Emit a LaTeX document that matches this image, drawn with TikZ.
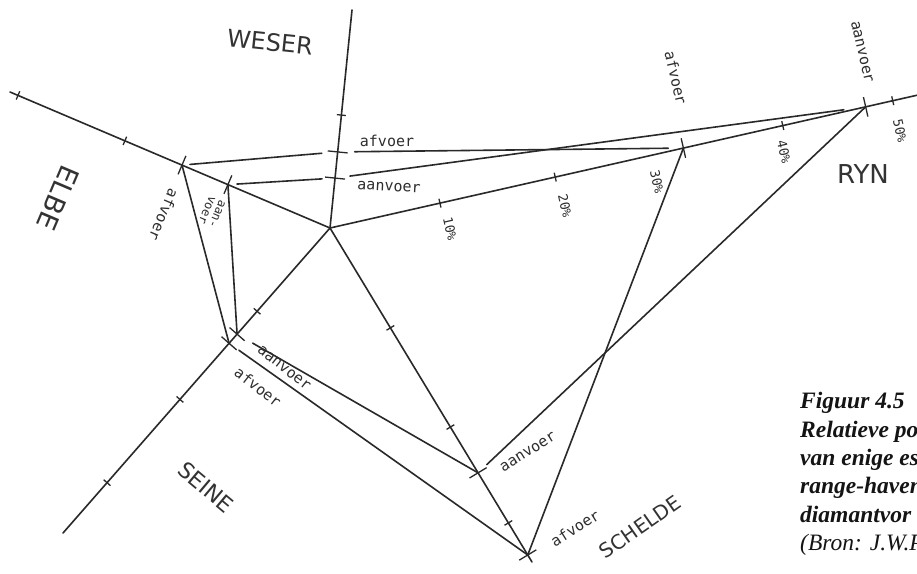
\documentclass[tikz,border=0pt]{standalone}
\usepackage{fontspec}
\newfontfamily\handfont{DejaVu Sans}
\newfontfamily\handmono{DejaVu Sans Mono}
\newfontfamily\capfont{Liberation Serif}
\usetikzlibrary{calc}
\begin{document}
\begin{tikzpicture}[x=1pt,y=-1pt,
  ln/.style={line width=1.6pt, draw=black!84, line cap=round},
  tk/.style={line width=1.3pt, draw=black!84},
  big/.style={font=\handfont\fontsize{#1}{#1}\selectfont, text=black!80, inner sep=0pt},
  sm/.style={font=\handmono\fontsize{15}{15}\selectfont, text=black!82, inner sep=0pt},
  pc/.style={font=\handmono\fontsize{13}{13}\selectfont, text=black!82, inner sep=0pt, rotate=-77},
  captxt/.style={font=\capfont\fontsize{23.5}{23.5}\selectfont\bfseries\itshape, anchor=base west, inner sep=0pt, text=black!92}]
\useasboundingbox (0,0) rectangle (917,573);
\fill[white] (0,0) rectangle (917,573);
\clip (0,0) rectangle (917,573);
% axes
\coordinate (C) at (330,228);
\coordinate (Wt) at (352,10);
\coordinate (Ee) at (10,92);
\coordinate (Se) at (63,533);
\coordinate (Sc) at (532,562);
\coordinate (Re) at (918,95);
\coordinate (W1) at ($(C)!0.349!(Wt)$);
\coordinate (W2) at ($(C)!0.229!(Wt)$);
\coordinate (E1) at ($(C)!0.4625!(Ee)$);
\coordinate (E2) at ($(C)!0.319!(Ee)$);
\coordinate (S2) at ($(C)!0.348!(Se)$);
\coordinate (S1) at ($(C)!0.378!(Se)$);
\coordinate (K2) at ($(C)!0.733!(Sc)$);
\coordinate (K1) at ($(C)!0.979!(Sc)$);
\coordinate (R1) at ($(C)!0.601!(Re)$);
\coordinate (R2) at ($(C)!0.911!(Re)$);
\draw[ln] (Ee) -- (C);
\draw[ln] (C) -- (Wt);
\draw[ln] (C) -- (Se);
\draw[ln] (C) -- (Sc);
\draw[ln] (C) -- (Re);
% crosses at port points
\foreach \p in {W1,W2,E1,E2,S1,S2,K1,K2,R1,R2}
  \draw[tk] ($(\p)!10pt!90:(C)$) -- ($(\p)!10pt!-90:(C)$);
% small ticks
\foreach \e/\t in {Wt/0.518, Ee/0.641, Ee/0.975, Se/0.273, Se/0.562, Se/0.835, Sc/0.299, Sc/0.596, Sc/0.883, Re/0.187, Re/0.383, Re/0.770, Re/0.957}
  \draw[tk] ($(C)!\t!(\e)!4.5pt!90:(\e)$) -- ($(C)!\t!(\e)!4.5pt!-90:(\e)$);
% connectors
\draw[ln, shorten <=8pt, shorten >=16pt] (E1) -- (W1);
\draw[ln, shorten <=17pt, shorten >=15pt] (W1) -- (R1);
\draw[ln, shorten <=9pt, shorten >=13pt] (E2) -- (W2);
\draw[ln, shorten <=15pt, shorten >=22pt] (W2) -- (R2);
\draw[ln] (E1) -- (S1);
\draw[ln] (E2) -- (S2);
\draw[ln, shorten <=18pt] (S2) -- (K2);
\draw[ln, shorten <=12pt] (S1) -- (K1);
\draw[ln, shorten <=12pt] (K2) -- (R2);
\draw[ln] (K1) -- (R1);
% big labels
\node[big=24, rotate=-6] (nW) at (270,42) {WESER};
\node[big=27, rotate=-113] (nE) at (58,198) {ELBE};
\node[big=22, rotate=-40] (nS) at (206,487) {SEINE};
\node[big=20, rotate=35] (nK) at (640,527) {SCHELDE};
\node[big=26] (nR) at (863,174) {RYN};
% small labels
\node[sm] (lW1) at (387,141) {afvoer};
\node[sm, rotate=-3] (lW2) at (389,187) {aanvoer};
\node[sm, rotate=-113] (lE1) at (164,215) {afvoer};
\node[sm, rotate=-113, align=center, font=\handmono\fontsize{12}{11}\selectfont] (lE2) at (212,212) {aan-\\voer};
\node[sm, rotate=-38] (lS2) at (284,368) {aanvoer};
\node[sm, rotate=-38] (lS1) at (258,387) {afvoer};
\node[sm, rotate=32] (lK2) at (528,452) {aanvoer};
\node[sm, rotate=32] (lK1) at (575,528) {afvoer};
\node[sm, rotate=-77] (lR1) at (676,78) {afvoer};
\node[sm, rotate=-77] (lR2) at (862,52) {aanvoer};
% percentages
\node[pc] (p10) at (450,229) {10\%};
\node[pc] (p20) at (565,206) {20\%};
\node[pc] (p30) at (657,182) {30\%};
\node[pc] (p40) at (784,152) {40\%};
\node[pc] (p50) at (900,131) {50\%};
% caption
\node[captxt] (c1) at (800,408) {Figuur 4.5};
\node[captxt] (c2) at (800,437) {Relatieve po};
\node[captxt] (c3) at (800,465) {van enige es};
\node[captxt] (c4) at (800,493) {range-haven};
\node[captxt] (c5) at (800,522) {diamantvor};
\node[captxt, font=\capfont\fontsize{23.5}{23.5}\selectfont\itshape] (c6) at (800,550) {(Bron: J.W.P};
\end{tikzpicture}
\end{document}
